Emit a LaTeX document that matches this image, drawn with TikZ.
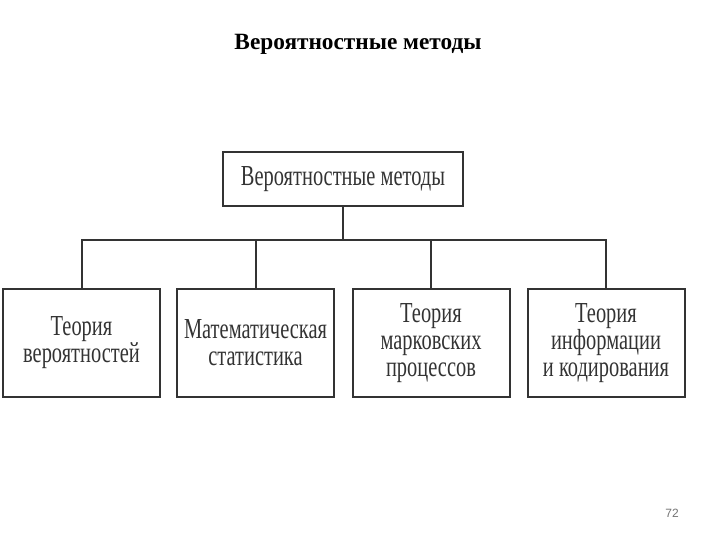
\documentclass[tikz,border=0pt]{standalone}
\usepackage{fontspec}
\setmainfont{Liberation Serif}
\newfontfamily\condfont[FakeStretch=0.705]{Liberation Serif}
\newfontfamily\numfont{Liberation Sans}
\begin{document}
\begin{tikzpicture}[x=1bp,y=-1bp,
  box/.style={draw=black!80, line width=2bp, rectangle, inner sep=0pt, align=center,
    text=black!80, font=\condfont\fontsize{29bp}{27bp}\selectfont},
  conn/.style={draw=black!80, line width=2bp}]
\useasboundingbox (0,0) rectangle (720,540);
\node[font=\bfseries\fontsize{23.3bp}{26bp}\selectfont] (title) at (358,44) {Вероятностные методы};
\node[box, minimum width=240bp, minimum height=54bp] (top) at (343,179.5) {Вероятностные методы};
\node[box, minimum width=157bp, minimum height=108bp] (b1) at (81.5,343) {Теория\\вероятностей};
\node[box, minimum width=157bp, minimum height=108bp] (b2) at (255.5,343) {Математическая\\статистика};
\node[box, minimum width=157bp, minimum height=108bp] (b3) at (431,343) {Теория\\марковских\\процессов};
\node[box, minimum width=157bp, minimum height=108bp] (b4) at (606,343) {Теория\\информации\\и кодирования};
\coordinate (bus) at (0,240);
\draw[conn] (top.south) -- (top.south |- bus);
\draw[conn] (b1.north) -- (b1.north |- bus) -- (b4.north |- bus) -- (b4.north);
\draw[conn] (b2.north) -- (b2.north |- bus);
\draw[conn] (b3.north) -- (b3.north |- bus);
\node[font=\numfont\fontsize{12bp}{14bp}\selectfont, text=black!55] (num) at (672,513) {72};
\end{tikzpicture}
\end{document}
